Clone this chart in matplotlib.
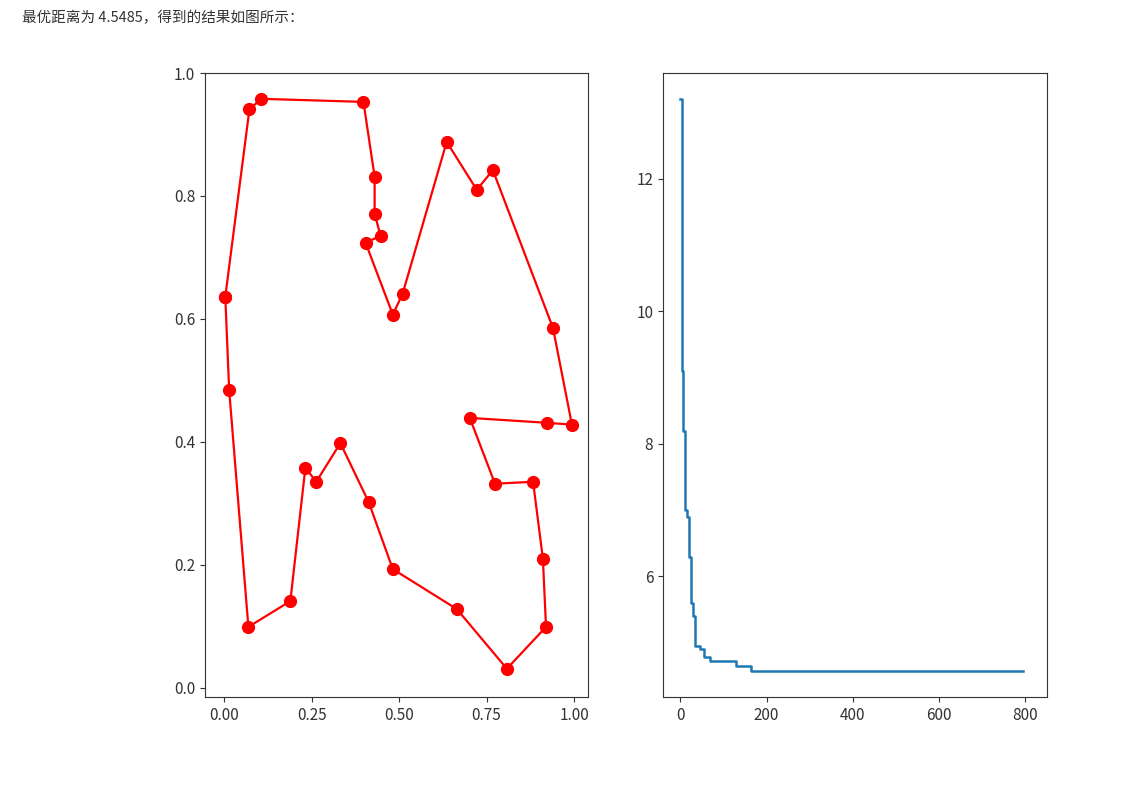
import numpy as np
import matplotlib
matplotlib.use("Agg")
import matplotlib.pyplot as plt

plt.rcParams['font.family'] = ['Noto Sans CJK SC', 'DejaVu Sans']

# optimal tour (city coordinates in visiting order)
xs = [0.003, 0.014, 0.069, 0.189, 0.232, 0.263, 0.332, 0.413, 0.482, 0.665,
      0.808, 0.920, 0.911, 0.883, 0.774, 0.702, 0.923, 0.994, 0.940, 0.768,
      0.722, 0.636, 0.510, 0.482, 0.404, 0.447, 0.430, 0.430, 0.398, 0.106,
      0.072, 0.003]
ys = [0.636, 0.485, 0.099, 0.141, 0.358, 0.335, 0.398, 0.302, 0.193, 0.128,
      0.031, 0.099, 0.210, 0.335, 0.332, 0.439, 0.431, 0.428, 0.585, 0.842,
      0.810, 0.888, 0.641, 0.607, 0.724, 0.735, 0.771, 0.831, 0.953, 0.958,
      0.941, 0.636]

# best distance per iteration (breakpoints)
it = [0, 3, 6, 10, 15, 20, 25, 30, 35, 45, 55, 70, 130, 165, 795]
best = [13.2, 9.1, 8.2, 7.0, 6.9, 6.3, 5.6, 5.4, 4.95, 4.9, 4.78, 4.72, 4.65, 4.57, 4.57]

fig = plt.figure(figsize=(11.33, 7.87), dpi=100)
fig.text(22/1133, 1-18/787, "最优距离为 4.5485，得到的结果如图所示：", fontsize=10.5,
         color="#333333", va="center")

ax1 = fig.add_axes([205/1133, 1-697/787, 383/1133, 624/787])
ax1.plot(xs, ys, "-o", color="red", markersize=8.5, linewidth=1.6)
ax1.set_xticks([0, 0.25, 0.5, 0.75, 1.0])
ax1.set_xticklabels(["0.00", "0.25", "0.50", "0.75", "1.00"])
ax1.set_yticks([0, 0.2, 0.4, 0.6, 0.8, 1.0])
ax1.set_xlim(-0.055, 1.04)
ax1.set_ylim(-0.015, 1.0)

ax2 = fig.add_axes([663/1133, 1-697/787, 384/1133, 624/787])
ax2.plot(it, best, drawstyle="steps-post", color="#1f77b4", linewidth=1.8)
ax2.set_xticks([0, 200, 400, 600, 800])
ax2.set_yticks([6, 8, 10, 12])
ax2.set_xlim(-40, 850)
ax2.set_ylim(4.18, 13.6)

for ax in (ax1, ax2):
    ax.tick_params(labelsize=11, colors="#333333")
    for s in ax.spines.values():
        s.set_color("#333333")

fig.savefig("out.png", dpi=100)
